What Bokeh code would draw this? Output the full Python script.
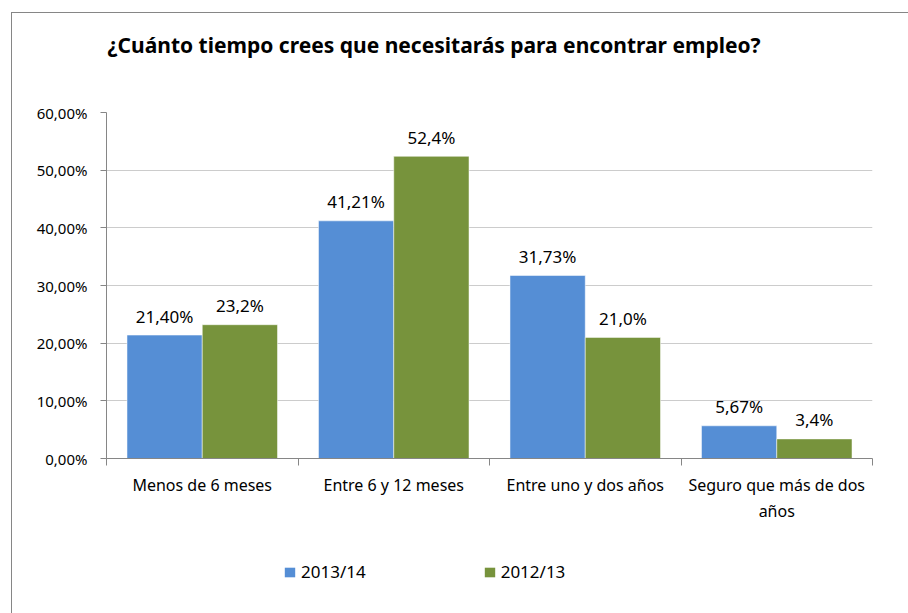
from bokeh.plotting import figure
from bokeh.layouts import column
from bokeh.models import FixedTicker, Legend, LegendItem, ColumnDataSource
from bokeh.core.properties import value
from bokeh.embed import file_html
from bokeh.resources import INLINE

# ---- data ----
title_text = "¿Cuánto tiempo crees que necesitarás para encontrar empleo?"
categories = ["Menos de 6 meses", "Entre 6 y 12 meses", "Entre uno y dos años",
              "Seguro que más de dos\naños"]
series_names = ["2013/14", "2012/13"]
values_2013_14 = [0.2140, 0.4121, 0.3173, 0.0567]
values_2012_13 = [0.232, 0.524, 0.210, 0.034]
labels_2013_14 = ["21,40%", "41,21%", "31,73%", "5,67%"]
labels_2012_13 = ["23,2%", "52,4%", "21,0%", "3,4%"]
y_ticks = [0.0, 0.1, 0.2, 0.3, 0.4, 0.5, 0.6]
y_tick_labels = ["0,00%", "10,00%", "20,00%", "30,00%", "40,00%", "50,00%", "60,00%"]

FONT = "Noto Sans"
BLUE = "#558ED5"
GREEN = "#77933C"
AXIS = "#868686"
GRID = "#cccccc"

n = len(categories)
centers = [i + 0.5 for i in range(n)]
bw = 0.393
x1 = [c - bw / 2 for c in centers]
x2 = [c + bw / 2 for c in centers]

W = 908
H0 = 92   # header strip with the title
H1 = 438  # chart
H2 = 83   # legend strip

# header strip: title only
h = figure(width=W, height=H0, output_backend="svg", toolbar_location=None,
           x_range=(0, 1), y_range=(0, 1), x_axis_type=None, y_axis_type=None,
           min_border_left=106, min_border_right=36, min_border_top=0, min_border_bottom=0)
h.outline_line_color = None
h.background_fill_alpha = 0
h.border_fill_alpha = 0
h.grid.grid_line_color = None
h.title.text = title_text
h.title.text_font = FONT
h.title.text_font_size = "21px"
h.title.text_font_style = "bold"
h.title.text_color = "#000000"
h.title.align = "left"
h.title.vertical_align = "bottom"
h.title.offset = 1
h.title.standoff = 56

p = figure(width=W, height=H1, output_backend="svg", toolbar_location=None,
           x_range=(0, n), y_range=(0, 0.6),
           min_border_left=106, min_border_right=36, min_border_top=112 - H0, min_border_bottom=72)
p.outline_line_color = None
p.background_fill_color = "white"
p.border_fill_alpha = 0

s1 = ColumnDataSource(dict(x=x1, top=values_2013_14, lab=labels_2013_14))
s2 = ColumnDataSource(dict(x=x2, top=values_2012_13, lab=labels_2012_13))
r1 = p.vbar(x="x", top="top", width=bw, source=s1, fill_color=BLUE, line_color="white", line_width=0.5)
r2 = p.vbar(x="x", top="top", width=bw, source=s2, fill_color=GREEN, line_color="white", line_width=0.5)

for s in (s1, s2):
    p.text(x="x", y="top", text="lab", source=s, text_align="center", text_baseline="middle",
           y_offset=-19, text_font=value(FONT), text_font_size="17px", text_color="#000000")

# y axis
p.yaxis.ticker = FixedTicker(ticks=y_ticks)
p.yaxis.major_label_overrides = {t: l for t, l in zip(y_ticks, y_tick_labels)}
p.yaxis.axis_line_color = AXIS
p.yaxis.major_tick_line_color = AXIS
p.yaxis.major_tick_out = 6
p.yaxis.major_tick_in = 0
p.yaxis.minor_tick_line_color = None
p.yaxis.major_label_standoff = 13
p.yaxis.major_label_text_font = FONT
p.yaxis.major_label_text_font_size = "15px"
p.yaxis.major_label_text_color = "#000000"

# x axis
p.xaxis.ticker = FixedTicker(ticks=centers, minor_ticks=list(range(n + 1)))
p.xaxis.major_label_overrides = {c: l for c, l in zip(centers, categories)}
p.xaxis.axis_line_color = AXIS
p.xaxis.major_tick_line_color = None
p.xaxis.minor_tick_line_color = AXIS
p.xaxis.minor_tick_out = 7
p.xaxis.minor_tick_in = 0
p.xaxis.major_tick_out = 0
p.xaxis.major_tick_in = 0
p.xaxis.major_label_standoff = 8
p.xaxis.major_label_text_font = FONT
p.xaxis.major_label_text_font_size = "16px"
p.xaxis.major_label_text_color = "#000000"

p.xgrid.grid_line_color = None
p.ygrid.ticker = FixedTicker(ticks=y_ticks)
p.ygrid.grid_line_color = GRID

# legend strip (no axes)
q = figure(width=W, height=H2, output_backend="svg", toolbar_location=None,
           x_range=(0, 1), y_range=(0, 1), x_axis_type=None, y_axis_type=None,
           min_border_left=106, min_border_right=36, min_border_top=0, min_border_bottom=0)
q.outline_line_color = None
q.background_fill_alpha = 0
q.border_fill_alpha = 0
q.grid.grid_line_color = None
k1 = q.vbar(x="x", top="top", width=bw, source=s1, fill_color=BLUE, line_color=None, visible=False)
k2 = q.vbar(x="x", top="top", width=bw, source=s2, fill_color=GREEN, line_color=None, visible=False)
legend = Legend(items=[LegendItem(label=series_names[0], renderers=[k1]),
                       LegendItem(label=series_names[1], renderers=[k2])],
                orientation="horizontal", location=(177, 30),
                glyph_width=13, glyph_height=12, label_height=12, label_standoff=5,
                spacing=117, padding=0, margin=0,
                border_line_color=None, background_fill_alpha=0,
                label_text_font=FONT, label_text_font_size="17px", label_text_color="#000000")
q.add_layout(legend, "center")

frame_line = "linear-gradient(#868686, #868686)"
layout = column(h, p, q, spacing=0)
layout.styles = {
    "background-image": f"{frame_line}, {frame_line}",
    "background-position": "11px 12px, 11px 12px",
    "background-size": "1px 100%, 100% 1px",
    "background-repeat": "no-repeat, no-repeat",
    "background-color": "white",
}

open("out.html", "w").write(file_html(layout, INLINE))
